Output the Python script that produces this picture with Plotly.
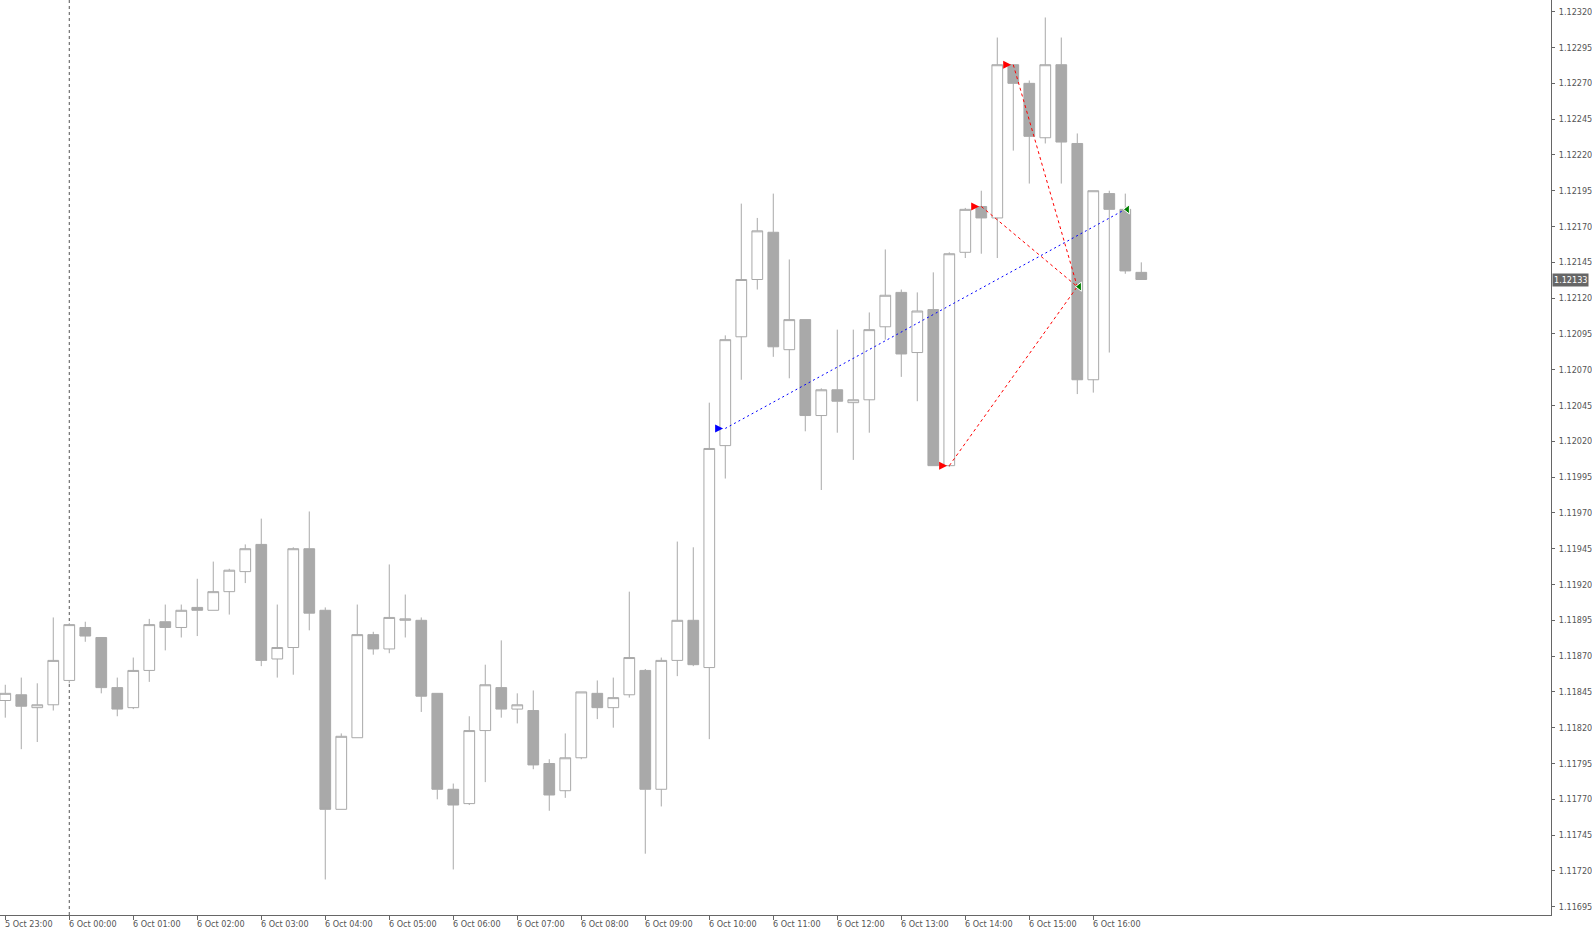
import pandas as pd
import plotly.graph_objects as go

# ---------------- data (15-minute candles) ----------------
start_time = "2016-10-05 23:00"
opens = [1.11839, 1.11843, 1.11834, 1.11836, 1.11853, 1.11890, 1.11883, 1.11848, 1.11834, 1.11860,
         1.11894, 1.11890, 1.11904, 1.11902, 1.11915, 1.11929, 1.11948, 1.11868, 1.11876, 1.11945,
         1.11902, 1.11763, 1.11813, 1.11885, 1.11875, 1.11895, 1.11895, 1.11844, 1.11777, 1.11767,
         1.11818, 1.11848, 1.11833, 1.11832, 1.11795, 1.11776, 1.11799, 1.11844, 1.11834, 1.11843,
         1.11860, 1.11777, 1.11867, 1.11895, 1.11862, 1.12017, 1.12093, 1.12133, 1.12166, 1.12084,
         1.12105, 1.12038, 1.12056, 1.12047, 1.12049, 1.12100, 1.12124, 1.12082, 1.12112, 1.12003,
         1.12152, 1.12184, 1.12176, 1.12283, 1.12270, 1.12232, 1.12283, 1.12228, 1.12063, 1.12193,
         1.12182, 1.12138]
highs = [1.11850, 1.11855, 1.11851, 1.11897, 1.11893, 1.11894, 1.11883, 1.11855, 1.11869, 1.11896,
         1.11906, 1.11906, 1.11924, 1.11936, 1.11931, 1.11948, 1.11966, 1.11906, 1.11946, 1.11971,
         1.11904, 1.11816, 1.11906, 1.11887, 1.11934, 1.11913, 1.11897, 1.11844, 1.11781, 1.11828,
         1.11864, 1.11881, 1.11844, 1.11846, 1.11798, 1.11816, 1.11845, 1.11853, 1.11855, 1.11915,
         1.11861, 1.11869, 1.11950, 1.11946, 1.12047, 1.12094, 1.12186, 1.12176, 1.12193, 1.12147,
         1.12105, 1.12057, 1.12098, 1.12098, 1.12110, 1.12154, 1.12126, 1.12124, 1.12138, 1.12152,
         1.12183, 1.12195, 1.12302, 1.12283, 1.12272, 1.12316, 1.12302, 1.12235, 1.12195, 1.12195,
         1.12193, 1.12145]
lows = [1.11827, 1.11805, 1.11810, 1.11832, 1.11851, 1.11880, 1.11844, 1.11828, 1.11833, 1.11852,
        1.11874, 1.11883, 1.11884, 1.11902, 1.11899, 1.11921, 1.11863, 1.11855, 1.11857, 1.11888,
        1.11714, 1.11763, 1.11813, 1.11871, 1.11872, 1.11883, 1.11831, 1.11770, 1.11721, 1.11766,
        1.11782, 1.11827, 1.11823, 1.11791, 1.11762, 1.11771, 1.11798, 1.11826, 1.11820, 1.11841,
        1.11732, 1.11765, 1.11856, 1.11863, 1.11812, 1.11994, 1.12063, 1.12126, 1.12079, 1.12064,
        1.12027, 1.11986, 1.12026, 1.12007, 1.12026, 1.12091, 1.12065, 1.12048, 1.12003, 1.12002,
        1.12148, 1.12151, 1.12148, 1.12223, 1.12200, 1.12228, 1.12200, 1.12053, 1.12054, 1.12082,
        1.12137, 1.12133]
closes = [1.11844, 1.11835, 1.11836, 1.11867, 1.11892, 1.11884, 1.11848, 1.11833, 1.11860, 1.11892,
          1.11890, 1.11902, 1.11902, 1.11915, 1.11930, 1.11945, 1.11867, 1.11876, 1.11945, 1.11900,
          1.11763, 1.11814, 1.11885, 1.11875, 1.11897, 1.11896, 1.11842, 1.11777, 1.11766, 1.11818,
          1.11850, 1.11833, 1.11836, 1.11794, 1.11773, 1.11799, 1.11845, 1.11834, 1.11841, 1.11869,
          1.11777, 1.11867, 1.11895, 1.11864, 1.12015, 1.12091, 1.12133, 1.12167, 1.12086, 1.12105,
          1.12038, 1.12056, 1.12048, 1.12049, 1.12098, 1.12122, 1.12081, 1.12111, 1.12003, 1.12151,
          1.12182, 1.12176, 1.12283, 1.12270, 1.12233, 1.12283, 1.12229, 1.12063, 1.12195, 1.12182,
          1.12139, 1.12133]

# trades
buy_open_time = ["2016-10-06 10:15"]
buy_open_price = [1.12029]
buy_close_time = ["2016-10-06 16:30"]
buy_close_price = [1.12182]
sell_open_times = ["2016-10-06 13:45", "2016-10-06 14:15", "2016-10-06 14:45"]
sell_open_prices = [1.12003, 1.12184, 1.12283]
sell_close_time = "2016-10-06 15:45"
sell_close_price = 1.12128

current_price = 1.12133
day_separator = "2016-10-06 00:00"

x_tick_times = ["2016-10-05 23:00"] + [f"2016-10-06 {h:02d}:00" for h in range(0, 17)]
x_tick_labels = ["5 Oct 23:00"] + [f"6 Oct {h:02d}:00" for h in range(0, 17)]
y_tick_values = [1.11695, 1.11720, 1.11745, 1.11770, 1.11795, 1.11820, 1.11845, 1.11870, 1.11895,
                 1.11920, 1.11945, 1.11970, 1.11995, 1.12020, 1.12045, 1.12070, 1.12095, 1.12120,
                 1.12145, 1.12170, 1.12195, 1.12220, 1.12245, 1.12270, 1.12295, 1.12320]
y_tick_labels = [f"{v:.5f}" for v in y_tick_values]

# ---------------- figure ----------------
times = pd.date_range(start_time, periods=len(opens), freq="15min")
GRAY = "#a9a9a9"
TXT = "#555555"
FONT = "DejaVu Sans Condensed, DejaVu Sans, sans-serif"

fig = go.Figure()
fig.add_trace(go.Candlestick(
    x=times, open=opens, high=highs, low=lows, close=closes,
    increasing=dict(line=dict(color=GRAY, width=1), fillcolor="#ffffff"),
    decreasing=dict(line=dict(color=GRAY, width=1), fillcolor=GRAY),
    whiskerwidth=0, showlegend=False, hoverinfo="skip"))

# buy trade line (blue dotted)
for ot, op, ct, cp in zip(buy_open_time, buy_open_price, buy_close_time, buy_close_price):
    fig.add_trace(go.Scatter(x=[ot, ct], y=[op, cp], mode="lines",
                             line=dict(color="#0000ff", width=1, dash="2px,3px"),
                             showlegend=False, hoverinfo="skip"))
# sell trade lines (red dotted)
for ot, op in zip(sell_open_times, sell_open_prices):
    fig.add_trace(go.Scatter(x=[ot, sell_close_time], y=[op, sell_close_price], mode="lines",
                             line=dict(color="#ff0000", width=1, dash="3px,3px"),
                             showlegend=False, hoverinfo="skip"))

shift = pd.Timedelta(minutes=2)
fig.add_trace(go.Scatter(x=[pd.Timestamp(t) - shift for t in buy_open_time], y=buy_open_price,
                         mode="markers", marker=dict(symbol="arrow-right", size=8, color="#0000ff"),
                         showlegend=False, hoverinfo="skip"))
fig.add_trace(go.Scatter(x=[pd.Timestamp(t) - shift for t in sell_open_times], y=sell_open_prices,
                         mode="markers", marker=dict(symbol="arrow-right", size=8, color="#ff0000"),
                         showlegend=False, hoverinfo="skip"))
close_x = [pd.Timestamp(t) + shift for t in buy_close_time] + [pd.Timestamp(sell_close_time) + shift]
close_y = buy_close_price + [sell_close_price]
fig.add_trace(go.Scatter(x=close_x, y=close_y, mode="markers",
                         marker=dict(symbol="triangle-left", size=8, color="#008000",
                                     line=dict(color="#ffffff", width=1)),
                         showlegend=False, hoverinfo="skip"))

# period separator
fig.add_shape(type="line", x0=day_separator, x1=day_separator, y0=0, y1=1, yref="paper",
              line=dict(color="#555555", width=1, dash="3px,3px"), layer="below")

# x labels (left aligned at ticks)
for t, lab in zip(x_tick_times, x_tick_labels):
    fig.add_annotation(x=t, y=0, yref="paper", text=lab, showarrow=False,
                       xanchor="left", yanchor="top", yshift=-2, xshift=-2,
                       font=dict(family=FONT, size=9, color=TXT))

# current price label
fig.add_annotation(x=1, xref="paper", y=current_price, text=str(current_price), showarrow=False,
                   xanchor="left", yanchor="middle", xshift=1, bgcolor="#666666",
                   font=dict(family=FONT, size=9, color="#ffffff"), borderpad=1)

fig.update_layout(
    width=1592, height=933, autosize=False,
    margin=dict(l=0, r=41, t=0, b=18),
    plot_bgcolor="#ffffff", paper_bgcolor="#ffffff",
    boxgap=0.33, boxgroupgap=0,
    xaxis=dict(type="date", range=["2016-10-05 22:55:03", "2016-10-06 23:09:06"],
               rangeslider=dict(visible=False), showgrid=False, zeroline=False,
               showline=True, linecolor="#666666", linewidth=1, automargin=False,
               tickvals=x_tick_times, ticks="outside", ticklen=4, tickcolor="#666666",
               showticklabels=False),
    yaxis=dict(side="right", range=[1.116892, 1.123282], showgrid=False, zeroline=False,
               showline=True, linecolor="#666666", linewidth=1, automargin=False,
               tickvals=y_tick_values, ticktext=y_tick_labels, ticks="outside", ticklen=3,
               ticklabelstandoff=2,
               tickcolor="#666666", tickfont=dict(family=FONT, size=9, color=TXT)),
)

fig.write_html("out.html", config={"displayModeBar": False},
               post_script="document.body.style.margin='0px';document.body.style.overflow='hidden';")
